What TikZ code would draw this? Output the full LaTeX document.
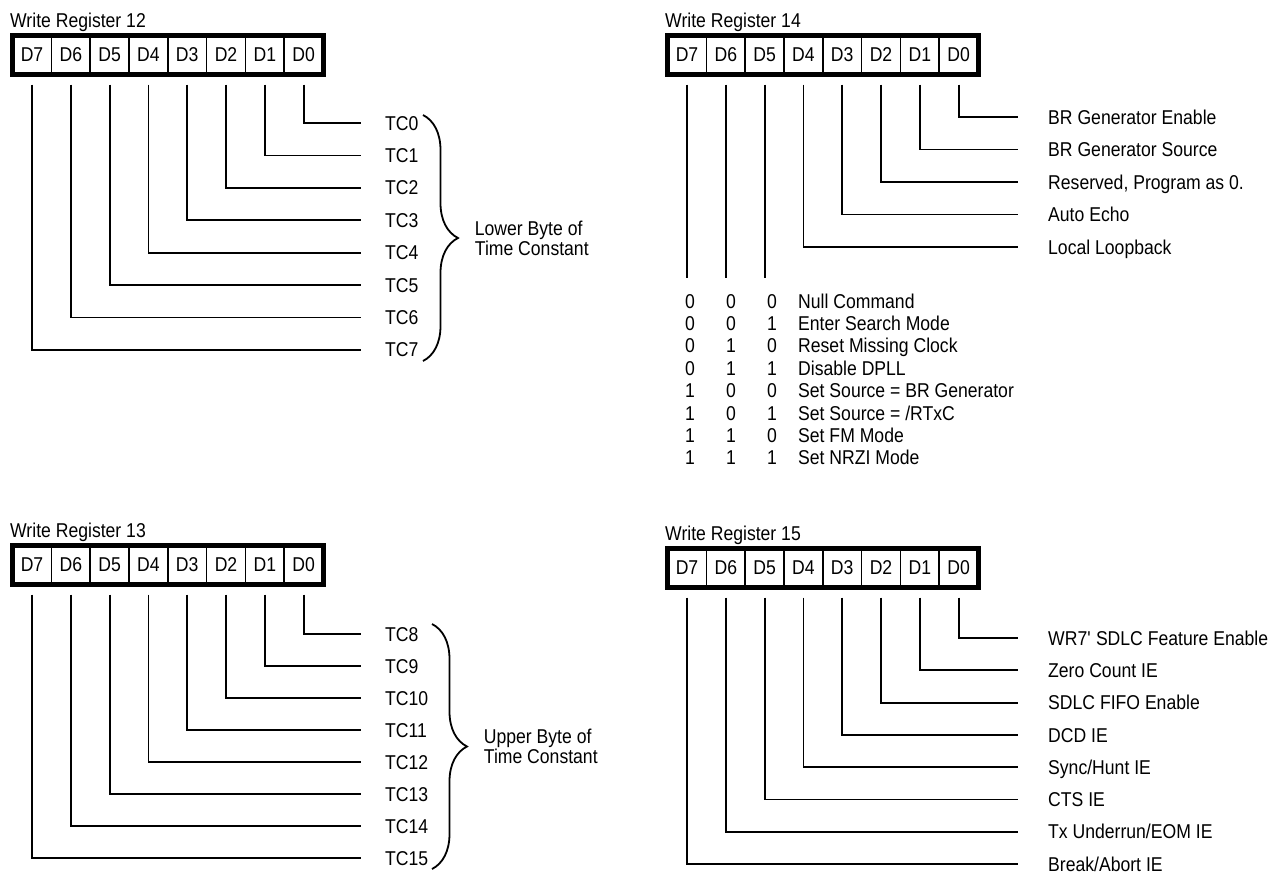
\documentclass[tikz,border=0pt]{standalone}
\usepackage{fontspec}
\setmainfont{Liberation Sans}[FakeStretch=0.88]
\usetikzlibrary{positioning,calc,decorations.pathreplacing}

\begin{document}
\begin{tikzpicture}[x=1pt,y=-1pt,
  font=\fontsize{20}{20}\selectfont,
  cell/.style={draw,line width=1.6pt,minimum width=38.8pt,minimum height=39pt,inner sep=0pt,outer sep=0pt},
  frame/.style={line width=5pt},
  wire/.style={line width=1.8pt},
  lbl/.style={anchor=west,inner sep=0pt,text height=14.3pt,text depth=0pt},
  bitval/.style={inner sep=0pt,text height=14.3pt,text depth=0pt},
  brace/.style={decorate,decoration={brace,amplitude=35pt},line width=1.8pt},
  bracelbl/.style={midway,anchor=west,xshift=51pt,align=left,inner sep=0pt}]
\useasboundingbox (0,0) rectangle (1270,879);
% register boxes
\foreach \r/\x/\y in {12/12/33,13/12/543,14/667/33,15/667/546}{
  \node[lbl] (wr\r) at ({\x-2},{\y-13}) {Write Register \r};
  \foreach \b in {0,...,7}
    \node[cell] (r\r-\b) at ({\x+20+38.8*(7-\b)},{\y+22}) {D\b};
  \draw[frame] (r\r-7.north west) rectangle (r\r-0.south east);
}
% WR12
\foreach \b in {0,...,7}{
  \node[lbl] (tc\b) at (385,{123+32.4*\b}) {TC\b};
  \draw[wire] ([yshift=-10pt]r12-\b.south) |- ([xshift=-24pt]tc\b.west);
}
\coordinate (lotop) at (423,115);
\coordinate (lobot) at (423,361);
\draw[brace] (lotop) -- (lobot) node[bracelbl] (lobyte) {Lower Byte of\\Time Constant};
% WR13
\foreach \t [count=\b from 0] in {8,...,15}{
  \node[lbl] (tc\t) at (385,{634+32*\b}) {TC\t};
  \draw[wire] ([yshift=-10pt]r13-\b.south) |- ([xshift=-24pt]tc\t.west);
}
\coordinate (uptop) at (432,624);
\coordinate (upbot) at (432,869);
\draw[brace] (uptop) -- (upbot) node[bracelbl] (upbyte) {Upper Byte of\\Time Constant};
% WR14
\foreach \b/\txt in {0/BR Generator Enable,1/BR Generator Source,2/{Reserved, Program as 0.},
  3/Auto Echo,4/Local Loopback}{
  \node[lbl] (f14-\b) at (1048,{117+32.5*\b}) {\txt};
  \draw[wire] ([yshift=-10pt]r14-\b.south) |- ([xshift=-30pt]f14-\b.west);
}
\foreach \b in {5,6,7}{
  \coordinate (e14-\b) at (r14-\b.south |- 0,278);
  \draw[wire] ([yshift=-10pt]r14-\b.south) -- (e14-\b);
}
\foreach \a/\b/\c/\txt [count=\n from 0] in {
  0/0/0/Null Command,
  0/0/1/Enter Search Mode,
  0/1/0/Reset Missing Clock,
  0/1/1/Disable DPLL,
  1/0/0/Set Source = BR Generator,
  1/0/1/{Set Source = /RTxC},
  1/1/0/Set FM Mode,
  1/1/1/Set NRZI Mode}{
  \node[bitval] (m\n-7) at (690,{301+22.4*\n}) {\a};
  \node[bitval] (m\n-6) at (731,{301+22.4*\n}) {\b};
  \node[bitval] (m\n-5) at (772,{301+22.4*\n}) {\c};
  \node[lbl] (cmd\n) at (798,{301+22.4*\n}) {\txt};
}
% WR15
\foreach \b/\txt in {0/WR7\textquotesingle{} SDLC Feature Enable,1/Zero Count IE,2/SDLC FIFO Enable,
  3/DCD IE,4/{Sync/Hunt IE},5/CTS IE,6/{Tx Underrun/EOM IE},7/{Break/Abort IE}}{
  \node[lbl] (f15-\b) at (1048,{638+32.3*\b}) {\txt};
  \draw[wire] ([yshift=-10pt]r15-\b.south) |- ([xshift=-30pt]f15-\b.west);
}
\end{tikzpicture}
\end{document}
